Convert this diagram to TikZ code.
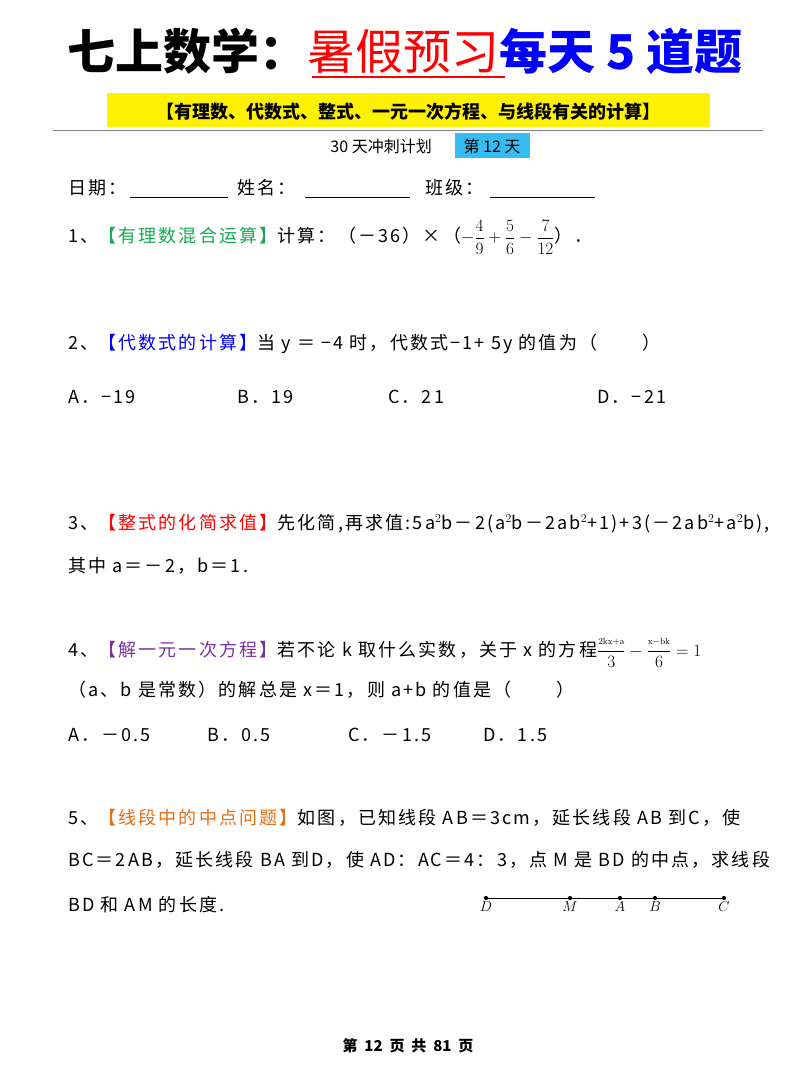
\documentclass[tikz,border=0pt]{standalone}
\usepackage{fontspec}
\setmainfont{Noto Sans CJK SC}
\newfontfamily\lmr{Latin Modern Roman}
\usepackage{amsmath}
\begin{document}
\begin{tikzpicture}[x=1pt,y=-1pt,
  txt/.style={anchor=base west,inner sep=0pt,font=\fontsize{18}{20}\selectfont\addfontfeature{LetterSpace=12}},
  dotp/.style={circle,fill=black,inner sep=1.5pt},
  lbl/.style={below=3pt,inner sep=0pt,font=\fontsize{14}{14}\selectfont}]
\useasboundingbox (0,0) rectangle (800,1067);
\definecolor{qgreen}{RGB}{20,170,80}
\definecolor{qpurple}{RGB}{120,50,160}
\definecolor{qorange}{RGB}{230,110,20}
% title
\node[anchor=base,inner sep=0pt,font=\fontsize{48}{50}\selectfont\bfseries] (title) at (405,70)
 {七上数学：\textcolor{red}{\mdseries 暑假预习}\textcolor{blue}{每天 5 道题}};
\draw[red,line width=2pt] (312,77) -- (505,77);
\fill[yellow] (107,93) rectangle (710,127);
\node[anchor=base,inner sep=0pt,font=\fontsize{18}{20}\selectfont\bfseries] (sub) at (408,119) {【有理数、代数式、整式、一元一次方程、与线段有关的计算】};
\draw[gray,line width=1pt] (53,131) -- (763,131);
\fill[cyan!80] (455,133) rectangle (530,158);
\node[anchor=base east,inner sep=0pt,font=\fontsize{16}{18}\selectfont] (plan) at (432,153) {30 天冲刺计划};
\node[anchor=base,inner sep=0pt,font=\fontsize{16}{18}\selectfont] (day) at (492,153) {第 12 天};
% date line
\node[txt] (date) at (68,195) {日期：};
\draw (130,197) -- (228,197);
\node[txt] (name) at (237,195) {姓名：};
\draw (305,197) -- (410,197);
\node[txt] (cls) at (425,195) {班级：};
\draw (490,197) -- (595,197);
% Q1
\node[txt] (q1) at (68,243) {1、\textcolor{qgreen}{【有理数混合运算】}计算：（－36）×（$-\dfrac{4}{9}+\dfrac{5}{6}-\dfrac{7}{12}$）．};
% Q2
\node[txt] (q2) at (68,349) {2、\textcolor{blue}{【代数式的计算】}当 y ＝ −4 时，代数式−1+ 5y 的值为（\hspace{2.5em}）};
\node[txt] (a2) at (68,403) {A．−19};
\node[txt] (b2) at (237,403) {B．19};
\node[txt] (c2) at (388,403) {C．21};
\node[txt] (d2) at (597,403) {D．−21};
% Q3
\node[txt] (q3) at (68,529) {3、\textcolor{red}{【整式的化简求值】}先化简,再求值:5a$^2$b－2(a$^2$b－2ab$^2$+1)+3(－2ab$^2$+a$^2$b),};
\node[txt] (q3b) at (68,572) {其中 a＝－2，b＝1.};
% Q4
\node[txt] (q4) at (68,656) {4、\textcolor{qpurple}{【解一元一次方程】}若不论 k 取什么实数，关于 x 的方程$\dfrac{\text{\lmr\small 2kx+a}}{3}-\dfrac{\text{\lmr\small x−bk}}{6}=1$};
\node[txt] (q4b) at (68,696) {（a、b 是常数）的解总是 x＝1，则 a+b 的值是（\hspace{2.5em}）};
\node[txt] (a4) at (68,741) {A．－0.5};
\node[txt] (b4) at (207,741) {B．0.5};
\node[txt] (c4) at (348,741) {C．－1.5};
\node[txt] (d4) at (483,741) {D．1.5};
% Q5
\node[txt] (q5) at (68,824) {5、\textcolor{qorange}{【线段中的中点问题】}如图，已知线段 AB＝3cm，延长线段 AB 到C，使};
\node[txt] (q5b) at (68,866) {BC＝2AB，延长线段 BA 到D，使 AD：AC＝4：3，点 M 是 BD 的中点，求线段};
\node[txt] (q5c) at (68,911) {BD 和 AM 的长度.};
% figure
\node[dotp] (D) at (486,898) {};
\node[dotp] (M) at (570,898) {};
\node[dotp] (A) at (620,898) {};
\node[dotp] (B) at (655,898) {};
\node[dotp] (C) at (724,898) {};
\draw[line width=0.6pt] (D) -- (M) -- (A) -- (B) -- (C);
\node[lbl] at (D) {$D$};
\node[lbl] at (M) {$M$};
\node[lbl] at (A) {$A$};
\node[lbl] at (B) {$B$};
\node[lbl] at (C) {$C$};
% footer
\node[anchor=base,inner sep=0pt,font=\fontsize{15}{16}\selectfont\bfseries] (foot) at (408,1051) {第\ \ 12\ \ 页\ \ 共\ \ 81\ \ 页};
\end{tikzpicture}
\end{document}
